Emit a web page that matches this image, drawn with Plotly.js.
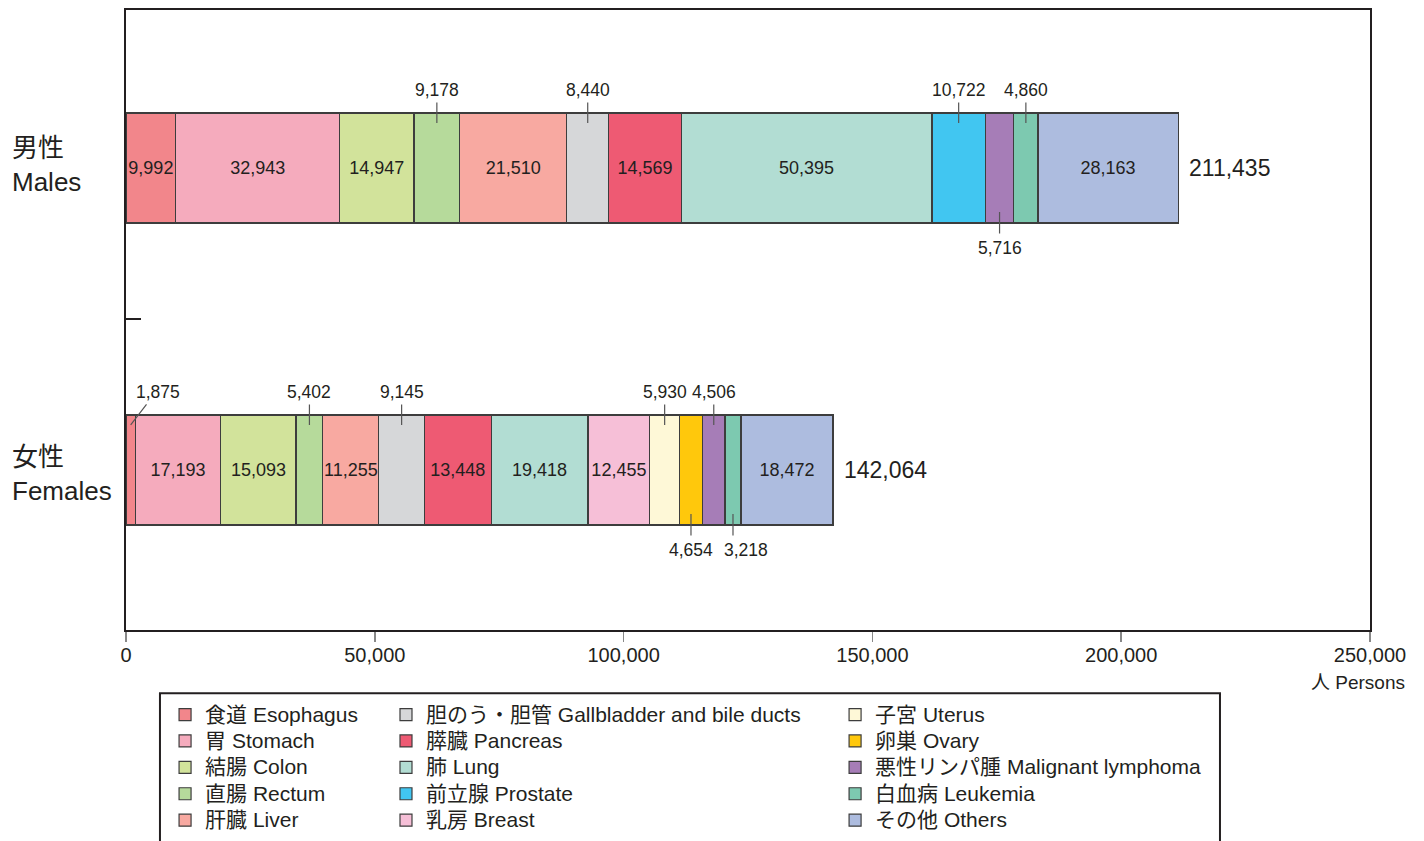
<!DOCTYPE html>
<html>
<head>
<meta charset="utf-8">
<script src="https://cdn.plot.ly/plotly-3.0.1.min.js"></script>
<style>html,body{margin:0;padding:0;background:#fff;}#chart{width:1424px;height:841px;}</style>
</head>
<body>
<div id="chart"></div>
<script>
// ---- data ----
const categories = ['女性<br>Females', '男性<br>Males'];   // y index 0 (bottom), 1 (top)
const totals = [142064, 211435];                        // Females, Males
const sites = ['食道 Esophagus', '胃 Stomach', '結腸 Colon', '直腸 Rectum', '肝臓 Liver',
  '胆のう・胆管 Gallbladder and bile ducts', '膵臓 Pancreas', '肺 Lung', '前立腺 Prostate', '乳房 Breast',
  '子宮 Uterus', '卵巣 Ovary', '悪性リンパ腫 Malignant lymphoma', '白血病 Leukemia', 'その他 Others'];
const males   = [9992, 32943, 14947, 9178, 21510, 8440, 14569, 50395, 10722, null, null, null, 5716, 4860, 28163];
const females = [1875, 17193, 15093, 5402, 11255, 9145, 13448, 19418, null, 12455, 5930, 4654, 4506, 3218, 18472];
const xTicks = [0, 50000, 100000, 150000, 200000, 250000];

// ---- styles ----
const colors = ['#F2868B', '#F5ABBD', '#D2E39B', '#B6DA9B', '#F8A9A1', '#D6D7D9', '#EE5A73', '#B2DDD3',
  '#41C6F1', '#F6BFD7', '#FEF8D7', '#FFC80C', '#A67DB7', '#7DC9B0', '#ADBCDF'];
// callout placement: direction and pixel offsets of the label
const calloutMale   = {3: {dir: 'up'}, 5: {dir: 'up'}, 8: {dir: 'up'}, 12: {dir: 'down'}, 13: {dir: 'up'}};
const calloutFemale = {0: {dir: 'diag'}, 3: {dir: 'up'}, 5: {dir: 'up'}, 10: {dir: 'up'},
  11: {dir: 'down'}, 12: {dir: 'up'}, 13: {dir: 'down', dx: 13}};
const labelShift = [-4, 3];
const BAR_W = 0.364;
const FONT = 'Liberation Sans, Arial, Noto Sans CJK JP, sans-serif';
const INK = '#231f20';

const fmt = v => v.toLocaleString('en-US');
const series = [females, males];
const callouts = [calloutFemale, calloutMale];

const traces = sites.map((name, i) => {
  const xs = [females[i], males[i]];
  const txt = xs.map((v, k) => (v == null || callouts[k][i]) ? '' : fmt(v));
  return {
    type: 'bar', orientation: 'h',
    name: '<span style="font-size:21px">' + name + '</span>',
    y: [0, 1], x: xs, width: BAR_W,
    text: txt, textposition: 'inside', insidetextanchor: 'middle', textangle: 0,
    constraintext: 'none',
    insidetextfont: {family: FONT, size: 18, color: INK},
    marker: {color: colors[i], line: {color: '#3d3d3d', width: 1.2}},
    legend: i < 5 ? 'legend' : (i < 10 ? 'legend2' : 'legend3'),
    hoverinfo: 'x+name'
  };
});

const annotations = [];
// category labels
categories.forEach((c, k) => {
  annotations.push({xref: 'paper', yref: 'y', x: -0.0935, y: k, xanchor: 'left', yanchor: 'middle',
    align: 'left', text: c, showarrow: false, yshift: labelShift[k], font: {family: FONT, size: 26, color: INK}});
});
// totals
totals.forEach((t, k) => {
  annotations.push({xref: 'x', yref: 'y', x: t, y: k, xanchor: 'left', yanchor: 'middle',
    text: fmt(t), showarrow: false, xshift: 9, font: {family: FONT, size: 23, color: INK}});
});
// callouts: a leader line plus a label
series.forEach((vals, k) => {
  let cum = 0;
  vals.forEach((v, i) => {
    if (v == null) return;
    const c = callouts[k][i];
    if (c) {
      const down = c.dir === 'down';
      const diag = c.dir === 'diag';
      const xc = cum + v / 2;
      const edge = down ? k - BAR_W / 2 : k + BAR_W / 2;
      annotations.push({
        xref: 'x', yref: 'y', x: xc, y: edge, yshift: down ? 11 : -10,
        ax: diag ? 17 : 0, ay: down ? 23 : -22, axref: 'pixel', ayref: 'pixel',
        text: '', showarrow: true, arrowhead: 0, arrowwidth: 1.2, arrowcolor: '#555'
      });
      annotations.push({
        xref: 'x', yref: 'y', x: xc, y: edge, yshift: down ? -25 : 23,
        xshift: (diag ? 27 : 0) + (c.dx || 0), xanchor: 'center', yanchor: 'middle',
        text: fmt(v), showarrow: false, font: {family: FONT, size: 17.5, color: INK}
      });
    }
    cum += v;
  });
});
// axis unit label
annotations.push({xref: 'paper', yref: 'paper', x: 1.0297, y: -0.0839, xanchor: 'right', yanchor: 'middle',
  text: '人 Persons', showarrow: false, font: {family: FONT, size: 19, color: INK}});

const legendBase = {orientation: 'v', yanchor: 'top', xanchor: 'left', y: -0.107,
  bgcolor: 'rgba(0,0,0,0)', borderwidth: 0, traceorder: 'normal',
  font: {family: FONT, size: 18, color: INK}};

const layout = {
  width: 1424, height: 841,
  margin: {l: 126, r: 54, t: 10, b: 211, autoexpand: false},
  paper_bgcolor: '#fff', plot_bgcolor: '#fff',
  barmode: 'stack',
  font: {family: FONT, color: INK},
  xaxis: {range: [0, 250000], tickvals: xTicks, tickformat: ',d', ticks: 'outside', ticklen: 10,
    tickcolor: '#888', tickwidth: 1.5, showgrid: false, zeroline: false,
    showline: true, linecolor: INK, linewidth: 2, mirror: true, ticklabelstandoff: -4,
    tickfont: {family: FONT, size: 20, color: INK}},
  yaxis: {range: [-0.53, 1.523], tickvals: [0.5], ticks: 'inside', ticklen: 15, tickcolor: INK,
    tickwidth: 1.2, showticklabels: false, showgrid: false, zeroline: false,
    showline: true, linecolor: INK, linewidth: 2, mirror: true},
  legend: Object.assign({}, legendBase, {x: 0.0314}),
  legend2: Object.assign({}, legendBase, {x: 0.209}),
  legend3: Object.assign({}, legendBase, {x: 0.570}),
  shapes: [{type: 'rect', xref: 'paper', yref: 'paper', x0: 0.0273, x1: 0.8794, y0: -0.102, y1: -0.36,
    line: {color: INK, width: 2}, fillcolor: 'rgba(0,0,0,0)'}],
  annotations: annotations,
  showlegend: true
};

Plotly.newPlot('chart', traces, layout, {displayModeBar: false, staticPlot: true});
</script>
</body>
</html>
